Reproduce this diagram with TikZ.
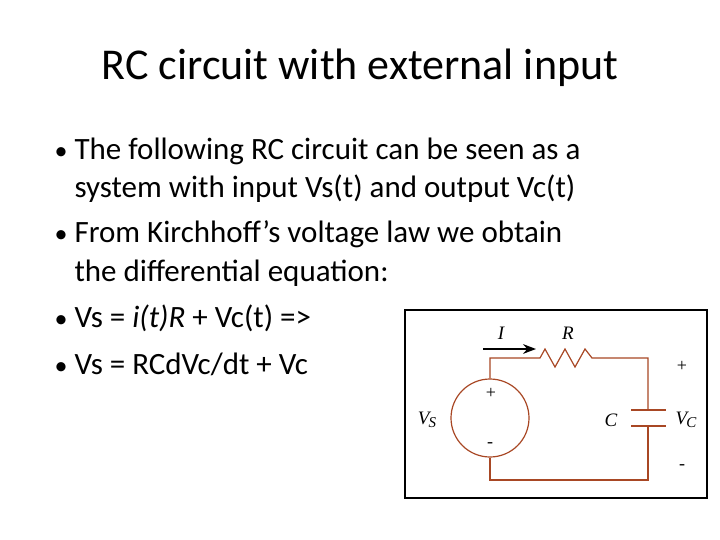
\documentclass[tikz,border=0pt]{standalone}
\usepackage{fontspec}
\setmainfont{Carlito}
\newfontfamily\circfont{Liberation Serif}
\usetikzlibrary{arrows.meta}
\tikzset{>=Stealth,
  wire/.style={draw=brown!70!red!80!black,line width=1.2pt},
  lbl/.style={font=\circfont\itshape\fontsize{19}{19}\selectfont},
  sgn/.style={font=\circfont\fontsize{18}{18}\selectfont},
  bullet/.style={anchor=base west,font=\fontsize{31}{36}\selectfont},
  dot/.style={anchor=base west,font=\fontsize{26}{30}\selectfont}}
\begin{document}
\begin{tikzpicture}[x=1pt,y=-1pt]
\useasboundingbox (0,0) rectangle (720,540);
\node[font=\fontsize{44}{48}\selectfont] (title) at (360,68) {RC circuit with external input};
% bullets
\foreach \y in {160,242,327,374}
  \node[dot] at (51,\y) {\textbullet};
\node[bullet] (l1) at (71,160) {The following RC circuit can be seen as a};
\node[bullet] (l2) at (71,198) {system with input Vs(t) and output Vc(t)};
\node[bullet] (l3) at (71,242) {From Kirchhoff’s voltage law we obtain};
\node[bullet] (l4) at (71,281) {the differential equation:};
\node[bullet] (l5) at (71,327) {Vs = \textit{i(t)R} + Vc(t) =>};
\node[bullet] (l6) at (71,374) {Vs = RCdVc/dt + Vc};
% circuit
\draw[line width=1.4pt] (405,310) rectangle (707,498);
\coordinate (tl) at (490,358);
\coordinate (tr) at (648,358);
\coordinate (bl) at (490,480);
\coordinate (br) at (648,480);
\node[wire,circle,minimum size=78pt,inner sep=0pt] (src) at (490,418) {};
\draw[wire] (src.north) -- (tl) -- (540,358) -- (545,349) -- (555,367) -- (565,349)
  -- (575,367) -- (585,349) -- (592,358) -- (tr) -- (648,410);
\draw[wire] (631,410) -- (666,410);
\draw[wire] (631,426) -- (666,426);
\draw[wire] (648,426) -- (br) -- (bl) -- (src.south);
\draw[->,line width=2.2pt] (483,349) -- (536,349);
\node[lbl] (I) at (501,333) {I};
\node[lbl] (R) at (568,333) {R};
\node[lbl] (C) at (611,420) {C};
\node[lbl] (vs) at (427,420) {V\kern-1pt\raisebox{-3pt}{\fontsize{15}{15}\selectfont S}};
\node[lbl] (vc) at (686,420) {V\kern-1pt\raisebox{-3pt}{\fontsize{15}{15}\selectfont C}};
\node[sgn] (p1) at (491,393) {+};
\node[sgn] (m1) at (490,445) {-};
\node[sgn] (p2) at (682,366) {+};
\node[sgn] (m2) at (682,467) {-};
\end{tikzpicture}
\end{document}
